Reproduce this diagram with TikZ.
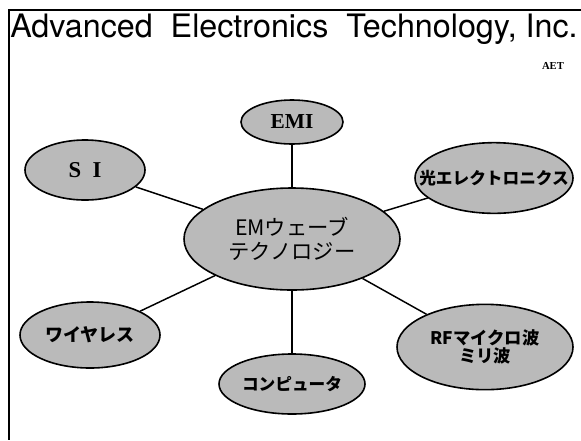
\documentclass[tikz,border=0pt]{standalone}
\usepackage{fontspec}
\setsansfont{TeX Gyre Heros}
\setmainfont{Liberation Serif}
\newfontfamily\jpfont{Noto Sans CJK JP}
\usetikzlibrary{shapes.geometric}

\begin{document}
\begin{tikzpicture}[
    x=0.75pt, y=-0.75pt,
    topic/.style={ellipse, draw, line width=1.2pt, fill=black!27, inner sep=0pt},
    jp/.style={font=\jpfont\bfseries\fontsize{#1}{#1}\selectfont},
    link/.style={line width=1.1pt},
    frame/.style={line width=1.6pt}
]
\useasboundingbox (0,0) rectangle (581,440);

% frame and heading
\coordinate (tl) at (9,10);
\coordinate (tr) at (581,10);
\coordinate (bl) at (9,440);
\draw[frame] (tr) -- (tl) -- (bl);
\node[anchor=base west, inner sep=0pt, font=\sffamily\fontsize{24.2}{28}\selectfont] (title) at (10,37) {Advanced\ \ Electronics\ \ Technology,\ Inc.};
\node[inner sep=0pt, font=\bfseries\fontsize{8}{8}\selectfont] (aet) at (553,66) {AET};

% central topic
\node[topic, minimum width=162pt, minimum height=76.5pt,
      label={[font=\jpfont\fontsize{16}{16}\selectfont, align=center]center:EMウェーブ\\[2pt]テクノロジー}] (em) at (292,239) {};

% surrounding topics
\node[topic, minimum width=76.5pt, minimum height=33pt,
      label={[font=\bfseries\fontsize{16}{16}\selectfont]center:EMI}] (emi) at (292,122) {};
\node[topic, minimum width=90pt, minimum height=45pt,
      label={[font=\bfseries\fontsize{17}{17}\selectfont]center:S\ \ I}] (si) at (85,170) {};
\node[topic, minimum width=118.5pt, minimum height=53pt,
      label={[jp=12.5]center:光エレクトロニクス}] (opto) at (494,178) {};
\node[topic, minimum width=105pt, minimum height=49.5pt,
      label={[jp=13.5]center:ワイヤレス}] (wireless) at (90,335) {};
\node[topic, minimum width=132pt, minimum height=64pt,
      label={[jp=13, align=center]center:RFマイクロ波\\ミリ波}] (rf) at (485,347) {};
\node[topic, minimum width=109.5pt, minimum height=45pt,
      label={[jp=12.5]center:コンピュータ}] (comp) at (292,384) {};

% links
\foreach \t in {emi, si, opto, wireless, rf, comp}
  \draw[link] (em) -- (\t);
\end{tikzpicture}
\end{document}
